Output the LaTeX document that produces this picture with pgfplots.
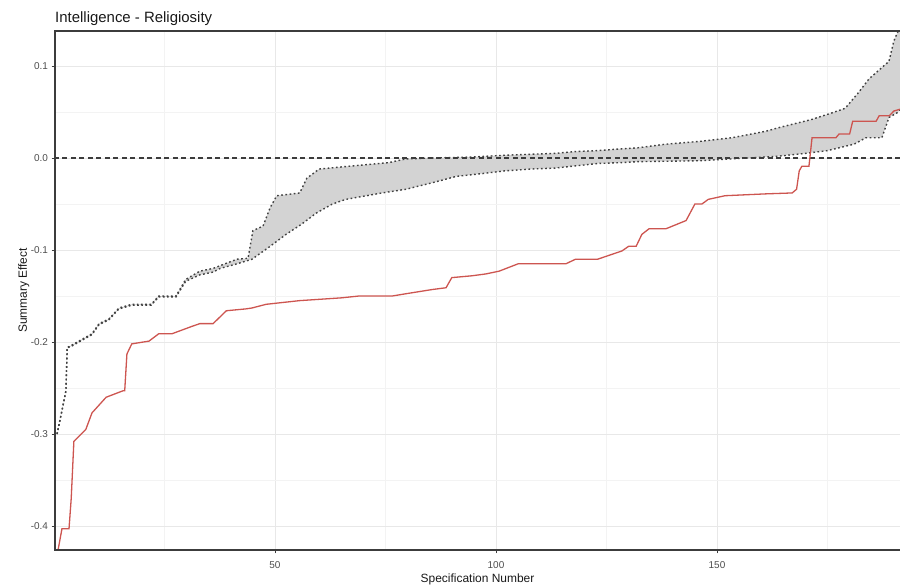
\documentclass[border=0pt]{standalone}
\usepackage{pgfplots}
\pgfplotsset{compat=1.18}
\usepackage{pgfplotstable}
\usepgfplotslibrary{fillbetween}
\usepackage{fontspec}
\setmainfont{Liberation Sans}
\definecolor{redline}{RGB}{205,85,80}
\definecolor{band}{RGB}{211,211,211}
\definecolor{axgray}{RGB}{60,60,60}
\definecolor{ticklab}{RGB}{77,77,77}
\definecolor{gridmaj}{RGB}{232,232,232}
\definecolor{gridmin}{RGB}{243,243,243}

\pgfplotstableread{
x y
0.7 -0.300
2.0 -0.270
2.7 -0.253
3.0 -0.206
3.8 -0.204
6.0 -0.198
8.6 -0.191
10.2 -0.180
12.4 -0.175
14.7 -0.163
17.6 -0.159
22.0 -0.159
23.7 -0.150
27.6 -0.150
29.8 -0.132
33.0 -0.123
36.0 -0.120
37.6 -0.117
41.4 -0.110
43.9 -0.109
45.0 -0.079
47.3 -0.074
48.9 -0.054
50.4 -0.041
55.6 -0.038
57.2 -0.022
60.0 -0.012
66.7 -0.009
75.8 -0.005
79.6 -0.001
85.7 0.000
94.6 0.001
102.0 0.003
113.3 0.005
118.0 0.007
123.0 0.008
128.5 0.010
132.0 0.011
138.4 0.015
146.0 0.018
153.4 0.022
161.0 0.029
164.0 0.033
171.5 0.042
176.0 0.049
179.0 0.054
182.0 0.071
184.4 0.086
188.9 0.105
190.0 0.127
190.7 0.135
191.4 0.142
}\tabup

\pgfplotstableread{
x y
0.7 -0.300
2.0 -0.270
2.7 -0.253
3.0 -0.206
3.8 -0.205
6.0 -0.199
8.6 -0.192
10.2 -0.181
12.4 -0.176
14.7 -0.164
17.6 -0.160
22.0 -0.160
23.7 -0.151
27.6 -0.151
29.8 -0.134
33.0 -0.127
36.0 -0.124
37.6 -0.120
41.4 -0.115
44.8 -0.110
48.9 -0.096
52.5 -0.083
56.0 -0.072
59.3 -0.060
63.0 -0.050
66.0 -0.045
74.2 -0.038
79.6 -0.034
85.5 -0.027
91.0 -0.020
96.8 -0.017
102.0 -0.014
108.0 -0.012
113.3 -0.011
123.0 -0.006
128.5 -0.005
132.0 -0.004
146.0 -0.003
157.0 0.000
164.0 0.002
170.0 0.005
175.0 0.008
181.0 0.015
183.7 0.022
187.3 0.022
188.9 0.044
190.7 0.049
191.4 0.052
}\tablo

\pgfplotstableread{
x y
0.7 -0.432
1.8 -0.403
3.4 -0.403
3.9 -0.370
4.5 -0.308
7.2 -0.295
8.6 -0.277
11.8 -0.260
15.6 -0.253
16.0 -0.253
16.5 -0.213
17.6 -0.202
21.5 -0.199
23.7 -0.191
26.7 -0.191
31.2 -0.183
33.0 -0.180
36.0 -0.180
39.0 -0.166
43.4 -0.164
44.8 -0.163
48.0 -0.159
55.6 -0.155
65.0 -0.152
69.0 -0.150
76.5 -0.150
80.3 -0.147
85.5 -0.143
88.7 -0.141
90.0 -0.130
94.6 -0.128
97.7 -0.126
100.7 -0.123
105.0 -0.115
115.8 -0.115
118.0 -0.110
123.0 -0.110
128.5 -0.101
130.0 -0.096
131.7 -0.096
133.0 -0.083
134.6 -0.077
138.4 -0.077
143.0 -0.068
145.0 -0.050
146.6 -0.050
148.0 -0.045
151.8 -0.041
161.0 -0.039
167.0 -0.038
168.0 -0.034
168.6 -0.014
169.2 -0.009
170.8 -0.009
171.5 0.022
176.9 0.022
177.6 0.026
180.0 0.026
180.7 0.040
186.0 0.040
186.7 0.046
189.0 0.046
190.0 0.051
191.4 0.053
}\tabred

\begin{document}
\begin{tikzpicture}
\begin{axis}[
  scale only axis,
  width=845bp, height=519bp,
  xmin=0.23, xmax=191.4,
  ymin=-0.426, ymax=0.138,
  xtick={50,100,150},
  minor xtick={25,75,125,175},
  ytick={-0.4,-0.3,-0.2,-0.1,0,0.1},
  minor ytick={-0.35,-0.25,-0.15,-0.05,0.05},
  grid=both,
  major grid style={gridmaj, line width=0.8bp},
  minor grid style={gridmin, line width=0.5bp},
  axis line style={draw=none},
  tick pos=left,
  tick align=outside,
  major tick length=3.5bp,
  minor tick length=0pt,
  major tick style={axgray, line width=0.8bp},
  /pgf/number format/assume math mode=true,
  ticklabel style={font=\fontsize{10}{12}\selectfont, text=ticklab},
  yticklabel style={/pgf/number format/fixed, /pgf/number format/fixed zerofill, /pgf/number format/precision=1},
  xticklabel style={/pgf/number format/fixed, yshift=-5bp},
  clip=true,
]
\addplot[draw=none, name path=up, forget plot] table[x=x,y=y] {\tabup};
\addplot[draw=none, name path=lo, forget plot] table[x=x,y=y] {\tablo};
\addplot[band, draw=none] fill between[of=up and lo];
\addplot[axgray, line width=1.2bp, dash pattern=on 5bp off 3.5bp] coordinates {(0,0) (200,0)};
\addplot[black!75, line width=1.4bp, dash pattern=on 1.7bp off 2.5bp] table[x=x,y=y] {\tabup};
\addplot[black!75, line width=1.4bp, dash pattern=on 1.7bp off 2.5bp] table[x=x,y=y] {\tablo};
\addplot[redline, line width=1.3bp] table[x=x,y=y] {\tabred};
\coordinate (SW) at (rel axis cs:0,0);
\coordinate (NW) at (rel axis cs:0,1);
\coordinate (SE) at (rel axis cs:1,0);
\coordinate (NE) at (rel axis cs:1,1);
\coordinate (SB) at (rel axis cs:0.5,0);
\coordinate (LM) at (rel axis cs:0,0.5);
\end{axis}
\draw[axgray, line width=1.2bp] (SE) -- (SW) -- (NW) -- (NE);
\node[anchor=base west, inner sep=0pt, font=\fontsize{15}{18}\selectfont, text=black!90] at ([yshift=8.3bp]NW) {Intelligence - Religiosity};
\node[anchor=base, inner sep=0pt, font=\fontsize{12}{14}\selectfont, text=black!90] at ([yshift=-33bp]SB) {Specification Number};
\node[anchor=base, rotate=90, inner sep=0pt, font=\fontsize{12}{14}\selectfont, text=black!90] at ([xshift=-28bp]LM) {Summary Effect};
\pgfresetboundingbox
\path[use as bounding box] ([xshift=-55bp,yshift=-37bp]SW) rectangle ([yshift=31bp]NE);
\end{tikzpicture}
\end{document}
